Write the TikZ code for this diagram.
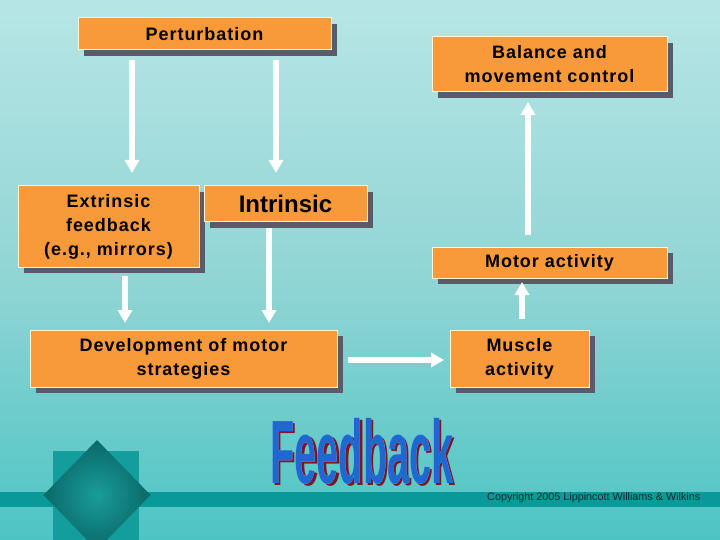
\documentclass[tikz,border=0pt]{standalone}
\usepackage{fontspec}
\usepackage{pdfrender}
\setmainfont{Liberation Sans}
\newfontfamily\fbfont{Liberation Sans}[FakeStretch=0.44]
\usetikzlibrary{arrows.meta,shadows}
\definecolor{boxfill}{HTML}{F99A3A}
\definecolor{boxedge}{HTML}{FFF4D6}
\definecolor{shadowc}{HTML}{5A5A69}
\definecolor{bgA}{HTML}{2DBCBC}
\definecolor{bgB}{HTML}{44C2C2}
\definecolor{bgC}{HTML}{8FD4D4}
\definecolor{bgD}{HTML}{B6E5E5}
\definecolor{bgE}{HTML}{D6F1F1}
\definecolor{bandc}{HTML}{0A9999}
\definecolor{squarec}{HTML}{139D9D}
\definecolor{diain}{HTML}{1A9C9C}
\definecolor{diaout}{HTML}{0A6868}
\definecolor{fbblue}{HTML}{1E68D0}
\definecolor{fblight}{HTML}{9CCEF8}
\definecolor{fbred}{HTML}{801424}
\definecolor{copyc}{HTML}{102A2A}
\pgfdeclareverticalshading{bgshade}{100bp}{color(0bp)=(bgA); color(22bp)=(bgB); color(48bp)=(bgC); color(74bp)=(bgD); color(100bp)=(bgE)}
\newcommand\fbgen[2]{{\color{#1}\fbfont\bfseries\fontsize{90}{90}\selectfont\textpdfrender{#2}{Feedback}}}
\begin{document}
\begin{tikzpicture}[x=1pt,y=-1pt,
  box/.style={draw=boxedge, line width=1pt, fill=boxfill, outer sep=0pt, inner sep=2pt,
    anchor=north west, align=center, text=black,
    font=\bfseries\fontsize{18}{24}\selectfont\addfontfeatures{LetterSpace=5.5},
    drop shadow={shadow xshift=6pt, shadow yshift=-6pt, fill=shadowc, opacity=1}},
  arr/.style={draw=white, line width=6.5pt, -{Triangle[width=14pt,length=13pt]}},
  logotext/.style={inner sep=0pt, outer sep=0pt}]
\useasboundingbox (0,0) rectangle (720,540);
\clip (0,0) rectangle (720,540);
\shade[shading=bgshade] (0,0) rectangle (720,540);
% bottom decoration
\fill[bandc] (0,492) rectangle (720,507);
\fill[squarec] (53,451) rectangle (139,540);
\shade[inner color=diain, outer color=diaout] (97,440) -- (150.5,495) -- (97,550) -- (43.5,495) -- cycle;
% boxes
\node[box, minimum width=253pt, minimum height=32pt] (pert) at (78,18) {Perturbation};
\node[box, minimum width=181pt, minimum height=81pt] (ext) at (18,186) {Extrinsic\\feedback\\(e.g., mirrors)};
\node[box, minimum width=163pt, minimum height=36pt, font=\bfseries\fontsize{24}{28}\selectfont] (intr) at (204,186) {Intrinsic};
\node[box, minimum width=235pt, minimum height=55pt] (bal) at (432,37) {Balance and\\movement control};
\node[box, minimum width=235pt, minimum height=31pt] (motor) at (432,247) {Motor activity};
\node[box, minimum width=307pt, minimum height=57pt] (dev) at (30,330) {Development of motor\\strategies};
\node[box, minimum width=139pt, minimum height=57pt] (musc) at (450,330) {Muscle\\activity};
% connector columns
\coordinate (c1) at (132,0);
\coordinate (c2) at (276,0);
\coordinate (c3) at (125,0);
\coordinate (c4) at (269,0);
\coordinate (r5) at (0,360);
\coordinate (c6) at (522,0);
\coordinate (c7) at (528,0);
\draw[arr, shorten <=10pt, shorten >=13pt] (pert.south -| c1) -- (ext.north -| c1);
\draw[arr, shorten <=10pt, shorten >=13pt] (pert.south -| c2) -- (intr.north -| c2);
\draw[arr, shorten <=9pt, shorten >=7pt] (ext.south -| c3) -- (dev.north -| c3);
\draw[arr, shorten <=6pt, shorten >=7pt] (intr.south -| c4) -- (dev.north -| c4);
\draw[arr, shorten <=11pt, shorten >=6pt] (dev.east |- r5) -- (musc.west |- r5);
\draw[arr, shorten <=11pt, shorten >=4pt] (musc.north -| c6) -- (motor.south -| c6);
\draw[arr, shorten <=12pt, shorten >=10pt] (motor.north -| c7) -- (bal.south -| c7);
% logo
\node[logotext] (logo) at (362,452) {\rlap{\hspace{2.2pt}\raisebox{-2.2pt}{\fbgen{fbred}{TextRenderingMode=FillStroke,LineWidth=7.5pt,LineJoin=1}}}\rlap{\fbgen{fblight}{TextRenderingMode=Stroke,LineWidth=7.5pt,LineJoin=1}}\fbgen{fbblue}{TextRenderingMode=FillStroke,LineWidth=2.5pt,LineJoin=1}};
% copyright
\node[anchor=west, inner sep=0pt, text=copyc, font=\fontsize{10.8}{12}\selectfont] (copy) at (487,497.5) {Copyright 2005 Lippincott Williams \& Wilkins};
\end{tikzpicture}
\end{document}
